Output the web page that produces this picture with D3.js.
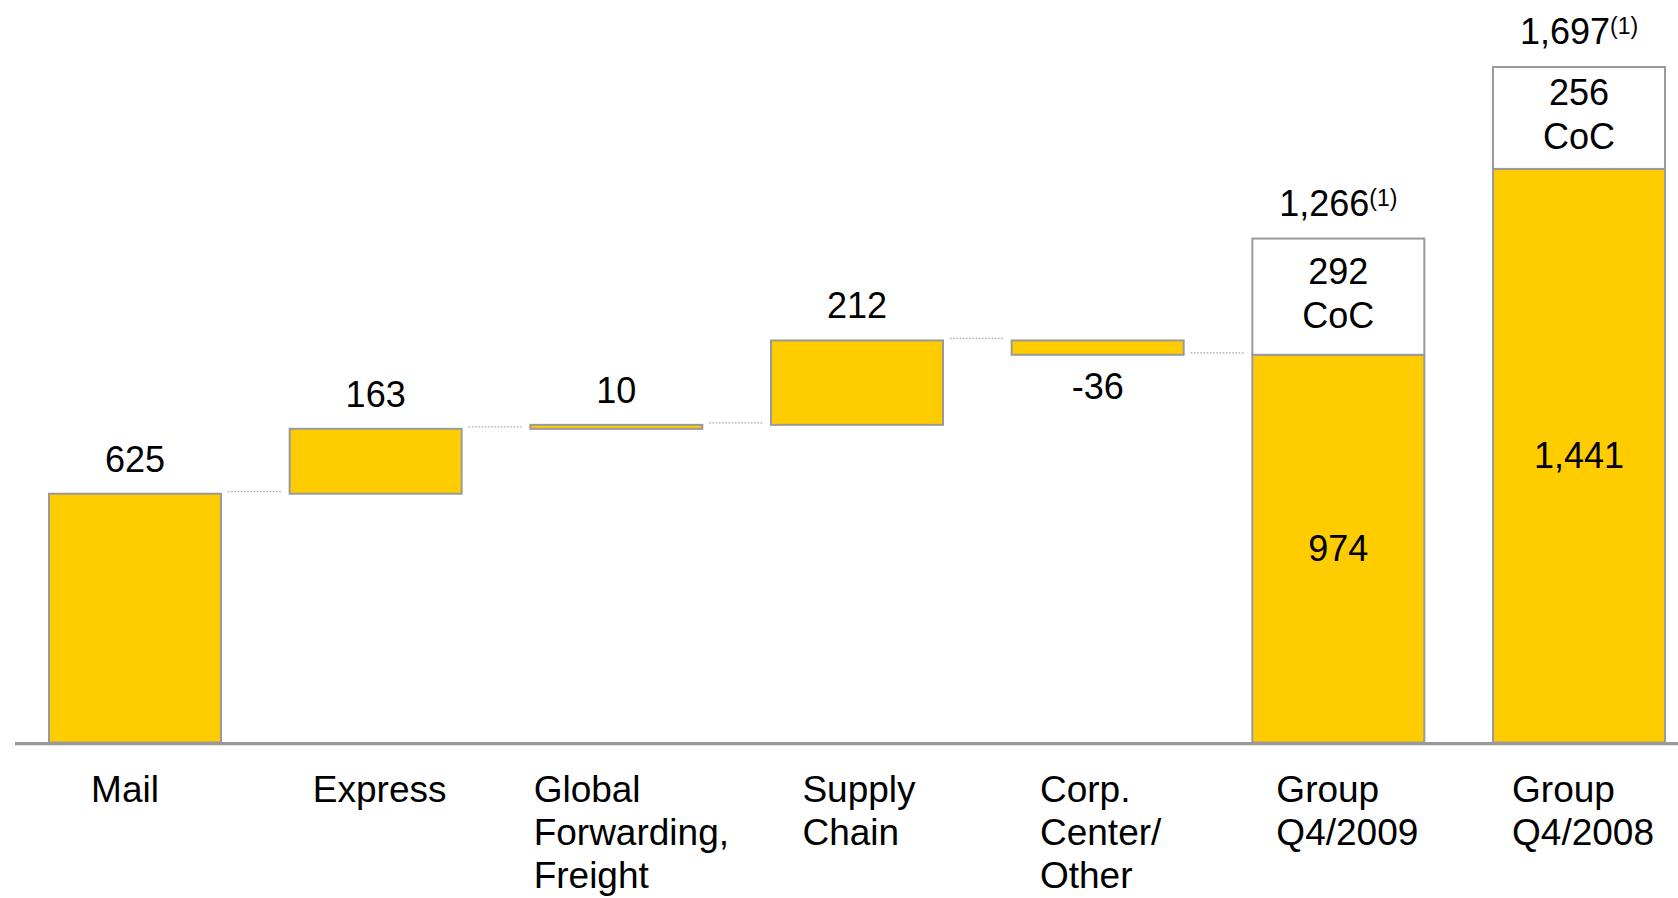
<!DOCTYPE html>
<html>
<head>
<meta charset="utf-8">
<script src="https://cdn.jsdelivr.net/npm/d3@7"></script>
<style>
  html, body { margin: 0; padding: 0; background: #ffffff; }
  svg { display: block; }
  text { font-family: "Liberation Sans", Arial, Helvetica, sans-serif; fill: #000; }
</style>
</head>
<body>
<svg id="chart" width="1678" height="898"></svg>
<script>
// EBIT bridge by division, Q4/2009 vs Q4/2008 (EUR m)
const categories = [
  ["Mail"],
  ["Express"],
  ["Global", "Forwarding,", "Freight"],
  ["Supply", "Chain"],
  ["Corp.", "Center/", "Other"],
  ["Group", "Q4/2009"],
  ["Group", "Q4/2008"]
];
const divisionValues = [625, 163, 10, 212, -36];
const groupEbit = [974, 1441];
const groupCoC = [292, 256];
const groupTotals = [1266, 1697];
const totalLabels = ["1,266", "1,697"];
const ebitLabels = ["974", "1,441"];
const cocLabels = ["292", "256"];
const cocText = "CoC";
const footnoteMark = "(1)";

// small horizontal adjustments for the category label blocks
const labelNudge = [-10, 4, 15, 2, 3, 9, 4];

const W = 1678, H = 898;
const BASE = 742.5;
const YELLOW = "#FFCC00", EDGE = "#9a9a9a";

const svg = d3.select("#chart");

const x = d3.scaleBand()
  .domain(d3.range(categories.length))
  .range([49, 1665])
  .paddingInner(0.2854)
  .paddingOuter(0);

const y = d3.scaleLinear()
  .domain([0, d3.max(groupTotals)])
  .range([BASE, 67]);

// waterfall steps
let run = 0;
const steps = divisionValues.map((v, i) => {
  const start = run;
  run += v;
  return { i, v, start, end: run };
});

const bw = x.bandwidth();

// connectors between consecutive bars
const connectors = steps.map(s => ({ level: s.end, from: s.i, to: s.i + 1 }));
svg.append("g").selectAll("line")
  .data(connectors)
  .join("line")
  .attr("x1", d => x(d.from) + bw + 7)
  .attr("x2", d => x(d.to) - 8)
  .attr("y1", d => y(d.level) - 2)
  .attr("y2", d => y(d.level) - 2)
  .attr("stroke", "#a8a8a8")
  .attr("stroke-width", 1.3)
  .attr("stroke-dasharray", "1.6,1.6");

// division bars
svg.append("g").selectAll("rect")
  .data(steps)
  .join("rect")
  .attr("x", d => x(d.i))
  .attr("width", bw)
  .attr("y", d => y(Math.max(d.start, d.end)))
  .attr("height", d => Math.abs(y(d.start) - y(d.end)))
  .attr("fill", YELLOW)
  .attr("stroke", EDGE)
  .attr("stroke-width", 2);

// division value labels
svg.append("g").selectAll("text")
  .data(steps)
  .join("text")
  .attr("x", d => x(d.i) + bw / 2)
  .attr("y", d => d.v >= 0 ? y(d.end) - 22 : y(d.end) + 44)
  .attr("text-anchor", "middle")
  .attr("font-size", 36)
  .text(d => d.v);

// group totals: EBIT (yellow) + cost of capital (white)
const groups = groupEbit.map((e, k) => ({
  idx: divisionValues.length + k,
  ebit: e,
  coc: groupCoC[k],
  total: groupTotals[k],
  k
}));

const gG = svg.append("g");
gG.selectAll("rect.ebit")
  .data(groups)
  .join("rect")
  .attr("class", "ebit")
  .attr("x", d => x(d.idx))
  .attr("width", bw)
  .attr("y", d => y(d.ebit))
  .attr("height", d => y(0) - y(d.ebit))
  .attr("fill", YELLOW)
  .attr("stroke", EDGE)
  .attr("stroke-width", 2);

gG.selectAll("rect.coc")
  .data(groups)
  .join("rect")
  .attr("class", "coc")
  .attr("x", d => x(d.idx))
  .attr("width", bw)
  .attr("y", d => y(d.ebit + d.coc))
  .attr("height", d => y(d.ebit) - y(d.ebit + d.coc))
  .attr("fill", "#ffffff")
  .attr("stroke", EDGE)
  .attr("stroke-width", 2);

// EBIT value inside yellow part
gG.selectAll("text.ebitLbl")
  .data(groups)
  .join("text")
  .attr("class", "ebitLbl")
  .attr("x", d => x(d.idx) + bw / 2)
  .attr("y", d => (y(d.ebit) + y(0)) / 2 + 12)
  .attr("text-anchor", "middle")
  .attr("font-size", 36)
  .text(d => ebitLabels[d.k]);

// CoC value inside white part
const cocT = gG.selectAll("text.cocLbl")
  .data(groups)
  .join("text")
  .attr("class", "cocLbl")
  .attr("text-anchor", "middle")
  .attr("font-size", 36);
cocT.append("tspan")
  .attr("x", d => x(d.idx) + bw / 2)
  .attr("y", d => (y(d.ebit) + y(d.ebit + d.coc)) / 2 - 13)
  .text(d => cocLabels[d.k]);
cocT.append("tspan")
  .attr("x", d => x(d.idx) + bw / 2)
  .attr("y", d => (y(d.ebit) + y(d.ebit + d.coc)) / 2 + 31)
  .text(cocText);

// total labels with footnote mark
const totT = gG.selectAll("text.totLbl")
  .data(groups)
  .join("text")
  .attr("class", "totLbl")
  .attr("x", d => x(d.idx) + bw / 2)
  .attr("y", d => y(d.total) - 23)
  .attr("text-anchor", "middle")
  .attr("font-size", 36);
totT.append("tspan").text(d => totalLabels[d.k]);
totT.append("tspan")
  .attr("font-size", 23)
  .attr("dy", -10)
  .text(footnoteMark);

// baseline
svg.append("line")
  .attr("x1", 15).attr("x2", W)
  .attr("y1", BASE + 1.2).attr("y2", BASE + 1.2)
  .attr("stroke", "#999999")
  .attr("stroke-width", 3.3);

// category labels: left-aligned lines, block centred under each bar
const catG = svg.append("g");
categories.forEach((lines, i) => {
  const t = catG.append("text")
    .attr("font-size", 37)
    .attr("text-anchor", "start");
  const spans = lines.map((ln, j) =>
    t.append("tspan").attr("y", 802 + j * 43).text(ln));
  const widest = d3.max(spans, s => s.node().getComputedTextLength());
  const left = x(i) + bw / 2 - widest / 2 + labelNudge[i];
  spans.forEach(s => s.attr("x", left));
});
</script>
</body>
</html>
